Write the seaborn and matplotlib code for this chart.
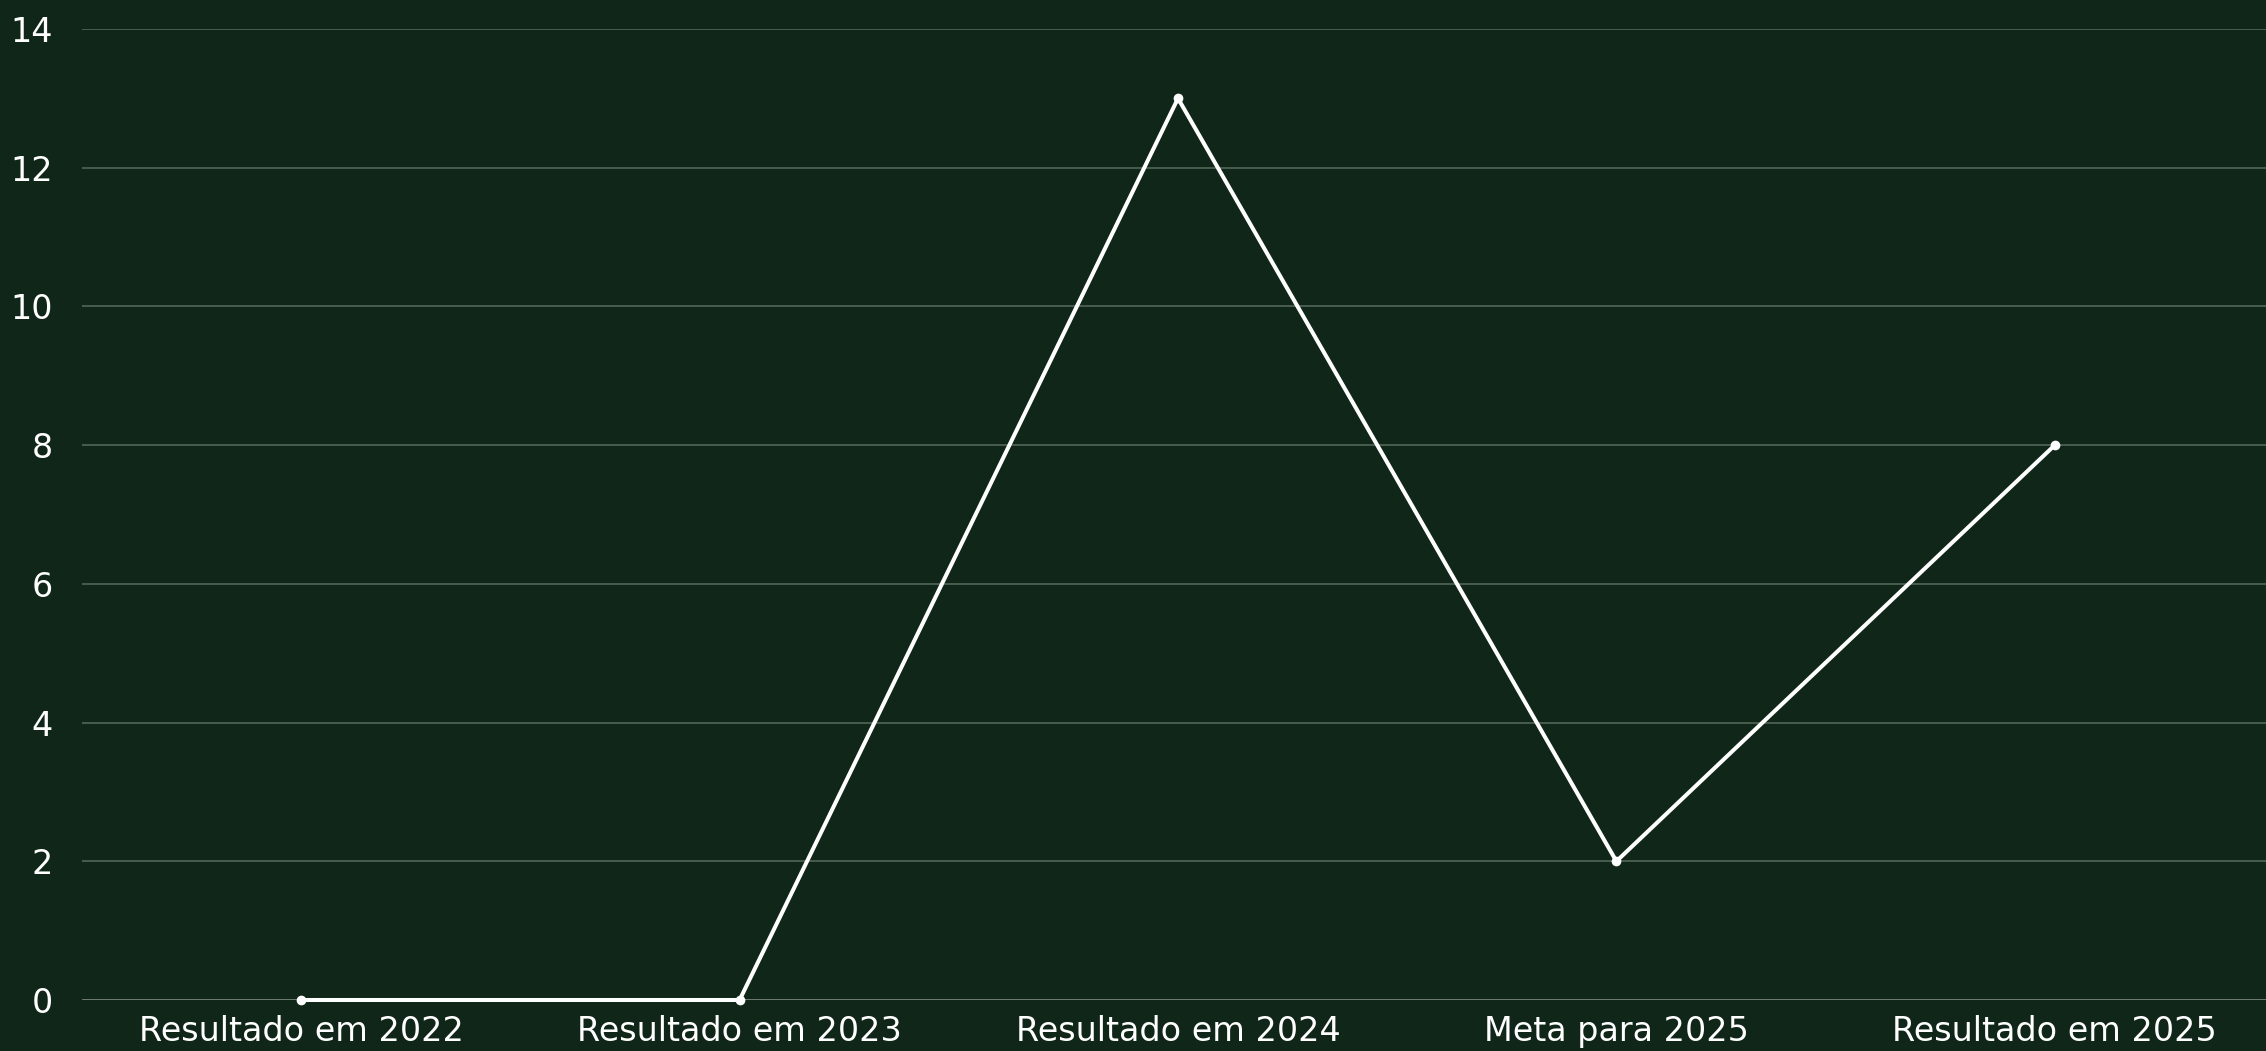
import matplotlib
matplotlib.use("Agg")
import matplotlib.pyplot as plt
import seaborn as sns
import pandas as pd

categories = ["Resultado em 2022", "Resultado em 2023", "Resultado em 2024", "Meta para 2025", "Resultado em 2025"]
values = [0, 0, 13, 2, 8]
yticks = [0, 2, 4, 6, 8, 10, 12, 14]

BG = "#0f2618"
sns.set_theme(style="dark")
plt.rcParams['font.family'] = ['DejaVu Sans']

fig = plt.figure(figsize=(22.66, 10.51), dpi=100, facecolor=BG)
ax = fig.add_axes([82/2266, 1 - 1000/1051, (2274-82)/2266, (1000-29)/1051])
ax.set_facecolor(BG)

df = pd.DataFrame({"cat": categories, "val": values})
df["x"] = range(len(categories))
sns.lineplot(data=df, x="x", y="val", ax=ax, color="white", linewidth=2.9,
             marker="o", markersize=7, markeredgewidth=0, zorder=5)
for ln in ax.get_lines():
    ln.set_clip_on(False)

ax.set_xlim(-0.5, 4.5)
ax.set_ylim(0, 14)
ax.set_xticks(range(len(categories)))
ax.set_xticklabels(categories)
ax.set_yticks(yticks)
ax.set_yticklabels([str(t) for t in yticks])
for t in yticks:
    ax.axhline(t, color="#8a958c" if t == 0 else "#485d4e", linewidth=1.8 if t == 0 else 1.4, zorder=1)
ax.grid(False)
for s in ax.spines.values():
    s.set_visible(False)
ax.tick_params(axis="both", length=0, colors="white", labelsize=24)
ax.tick_params(axis="y", pad=21)
ax.tick_params(axis="x", pad=11)
ax.set_xlabel("")
ax.set_ylabel("")
for lbl in ax.get_xticklabels() + ax.get_yticklabels():
    lbl.set_color("white")

fig.savefig("out.png", dpi=100, facecolor=BG)
